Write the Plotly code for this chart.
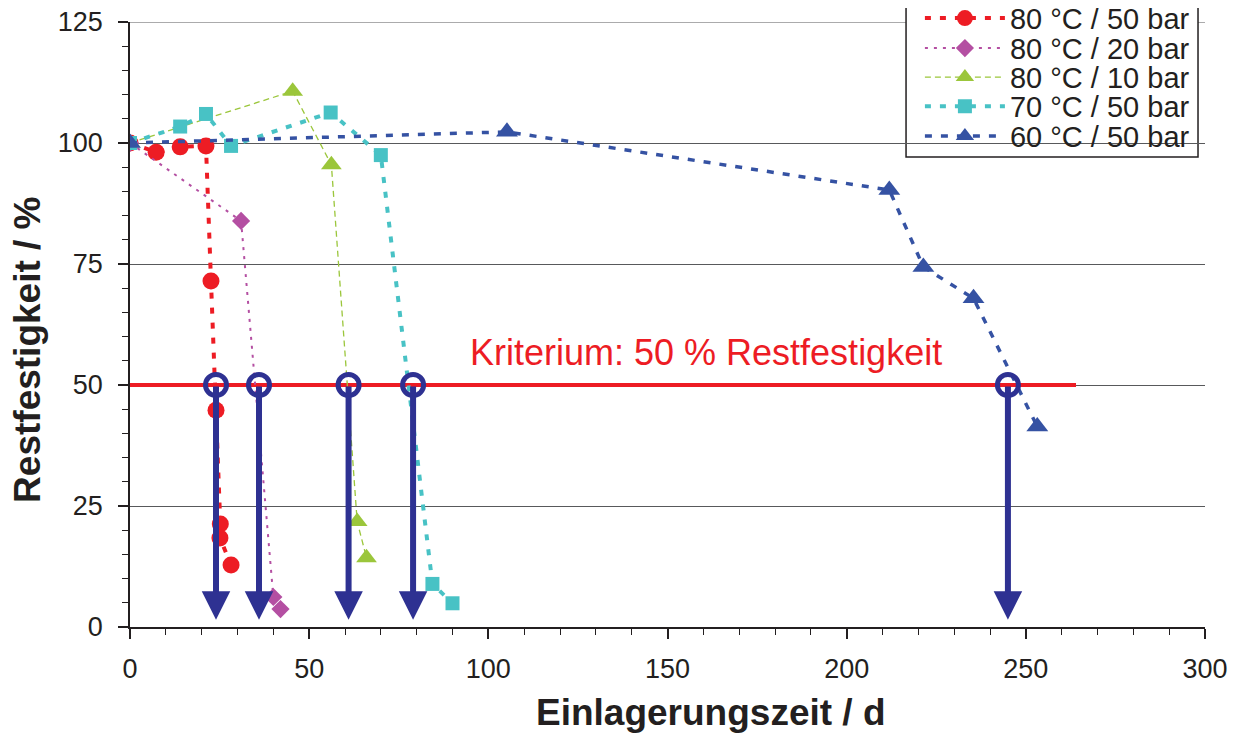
import plotly.graph_objects as go

# ---------------- data ----------------
t_80_50 = [0, 7.3, 14, 21.2, 22.6, 24, 25.2, 25.1, 28.2]
r_80_50 = [100, 98.1, 99.2, 99.4, 71.5, 44.8, 21.3, 18.4, 12.8]

t_80_20 = [0, 31, 40, 42]
r_80_20 = [100, 83.9, 6.2, 3.7]

t_80_10 = [0, 45.4, 56.2, 63.4, 66.0]
r_80_10 = [100, 110.7, 95.5, 21.8, 14.3]

t_70_50 = [0, 14, 21.2, 28.2, 56.0, 70.0, 84.4, 90.0]
r_70_50 = [100, 103.4, 106, 99.4, 106.3, 97.5, 8.9, 4.9]

t_60_50 = [0, 105.2, 211.9, 221.4, 235.4, 253.2]
r_60_50 = [100, 102.3, 90.3, 74.4, 67.9, 41.4]

arrow_t = [24, 36, 61, 79, 245]
criterion = 50
arrow_end = 1.5
criterion_x = [0, 264]

series_names = ["80 °C / 50 bar", "80 °C / 20 bar", "80 °C / 10 bar",
                "70 °C / 50 bar", "60 °C / 50 bar"]
x_ticks = [0, 50, 100, 150, 200, 250, 300]
y_ticks = [0, 25, 50, 75, 100, 125]

# ---------------- styles ----------------
FONT = "Liberation Sans, Arial, sans-serif"
TXT = "#231F20"
NAVY = "#2E3192"
RED = "#ED1C24"
GRID = "#58595B"

styles = [
    dict(color=RED, width=4, dash="6px,9px", symbol="circle", size=17),
    dict(color="#B44FA2", width=2, dash="3px,6px", symbol="diamond", size=14),
    dict(color="#9BC63B", width=1.3, dash="6px,4px", symbol="triangle-up", size=18),
    dict(color="#48C2C5", width=4, dash="6px,9px", symbol="square", size=14),
    dict(color="#3552A3", width=3.5, dash="7px,9px", symbol="triangle-up", size=19),
]
data = [(t_80_50, r_80_50), (t_80_20, r_80_20), (t_80_10, r_80_10),
        (t_70_50, r_70_50), (t_60_50, r_60_50)]

fig = go.Figure()

# criterion line
fig.add_trace(go.Scatter(x=criterion_x, y=[criterion, criterion], mode="lines",
                         line=dict(color=RED, width=4), showlegend=False,
                         hoverinfo="skip"))

legend_names = ["legend", "legend2", "legend3", "legend4", "legend5"]
for i, ((tx, ry), st, name) in enumerate(zip(data, styles, series_names)):
    fig.add_trace(go.Scatter(
        x=tx, y=ry, mode="lines+markers", name=name,
        line=dict(color=st["color"], width=st["width"], dash=st["dash"]),
        marker=dict(color=st["color"], symbol=st["symbol"], size=st["size"]),
        legend=legend_names[i],
    ))

# open circles at the criterion crossings
fig.add_trace(go.Scatter(x=arrow_t, y=[criterion] * len(arrow_t), mode="markers",
                         marker=dict(symbol="circle-open", size=21, color=NAVY,
                                     line=dict(color=NAVY, width=5)),
                         showlegend=False, hoverinfo="skip"))

# arrows
for t in arrow_t:
    fig.add_annotation(x=t, y=arrow_end, ax=t, ay=criterion, xref="x", yref="y",
                       axref="x", ayref="y", showarrow=True, arrowhead=2,
                       arrowsize=0.95, arrowwidth=6, arrowcolor=NAVY, text="")

fig.add_annotation(x=160.7, y=56.8, xref="x", yref="y", text="Kriterium: 50 % Restfestigkeit",
                   showarrow=False, font=dict(family=FONT, size=36, color=RED))

# axis titles
fig.add_annotation(x=0.54, y=-0.1405, xref="paper", yref="paper",
                   text="<b>Einlagerungszeit / d</b>", showarrow=False,
                   font=dict(family=FONT, size=37, color=TXT),
                   xanchor="center", yanchor="middle")
fig.add_annotation(x=-0.0949, y=0.458, xref="paper", yref="paper",
                   text="<b>Restfestigkeit / %</b>", showarrow=False, textangle=-90,
                   font=dict(family=FONT, size=37, color=TXT),
                   xanchor="center", yanchor="middle")

# top gridline (plotly omits gridlines at the range edge)
fig.add_shape(type="line", xref="paper", x0=0, x1=1, yref="y",
              y0=y_ticks[-1], y1=y_ticks[-1], line=dict(color=GRID, width=1),
              layer="below")

# legend frame
fig.add_shape(type="rect", xref="paper", yref="paper", x0=0.7219, x1=0.9935,
              y0=0.7769, y1=1.1, line=dict(color=TXT, width=1.5),
              fillcolor="white", layer="below")

leg_y = [1.0063, 0.9567, 0.9087, 0.8607, 0.8113]
layout_legends = {}
for ln, yy in zip(legend_names, leg_y):
    layout_legends[ln] = dict(x=0.7348, y=yy, xanchor="left", yanchor="middle",
                              bgcolor="rgba(0,0,0,0)", borderwidth=0,
                              font=dict(family=FONT, size=29, color=TXT),
                              itemwidth=80)

fig.update_layout(
    width=1231, height=725,
    margin=dict(l=122, r=34, t=14, b=106, autoexpand=False),
    plot_bgcolor="white", paper_bgcolor="white",
    font=dict(family=FONT, color=TXT),
    **layout_legends,
)

fig.update_xaxes(range=[0, 300], tickvals=x_ticks, ticks="outside", ticklen=10,
                 tickcolor=TXT, tickwidth=1.5, automargin=False,
                 ticklabeloverflow="allow",
                 showline=True, linecolor=TXT, linewidth=1.5, showgrid=False,
                 zeroline=False, tickfont=dict(family=FONT, size=27, color=TXT),
                 ticklabelstandoff=7,
                 minor=dict(dtick=10, ticks="outside", ticklen=6, tickcolor=TXT,
                            tickwidth=1.2, showgrid=False))
fig.update_yaxes(range=[0, 125], tickvals=y_ticks, ticks="outside", ticklen=10,
                 tickcolor=TXT, tickwidth=1.5, automargin=False,
                 ticklabeloverflow="allow",
                 showline=True, linecolor=TXT, linewidth=1.5, showgrid=True,
                 gridcolor=GRID, gridwidth=1, zeroline=False,
                 tickfont=dict(family=FONT, size=27, color=TXT),
                 ticklabelstandoff=10,
                 minor=dict(dtick=5, ticks="outside", ticklen=6, tickcolor=TXT,
                            tickwidth=1.2, showgrid=False))

fig.write_html("out.html")
